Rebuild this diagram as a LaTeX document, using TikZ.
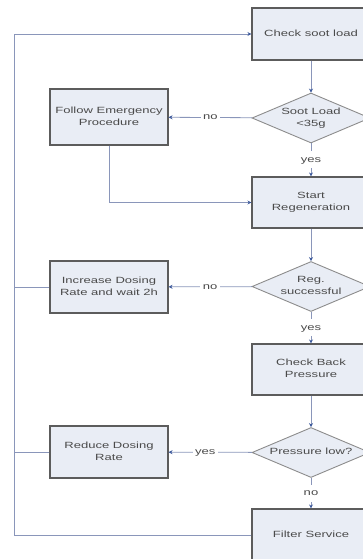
\documentclass[tikz,border=0pt]{standalone}
\usepackage{graphicx}
\usepackage{fontspec}
\setmainfont{Liberation Sans}
\usepackage{tikz}
\usetikzlibrary{
    arrows.meta,
    shapes.geometric
}

\definecolor{boxfill}{HTML}{E9EDF5}
\definecolor{boxline}{HTML}{5C5C5C}
\definecolor{diamline}{HTML}{8C8C8C}
\definecolor{flowline}{HTML}{8A96BA}
\definecolor{tipblue}{HTML}{3D5A9C}
\definecolor{txtgrey}{HTML}{4A4A4A}

% text of the chart is set wide
\newcommand{\wtext}[1]{\scalebox{1.45}[1]{\begin{tabular}{@{}c@{}}#1\end{tabular}}}

\tikzset{
    stepbox/.style={draw=boxline, fill=boxfill, line width=1.1pt, rectangle,
        minimum width=118pt, minimum height=52pt, inner sep=0pt,
        text=txtgrey, font=\fontsize{9}{12}\selectfont},
    decision/.style={draw=diamline, fill=boxfill, line width=0.9pt, diamond,
        minimum width=118pt, minimum height=50pt, inner sep=0pt},
    dtext/.style={text=txtgrey, font=\fontsize{9}{12}\selectfont},
    flow/.style={draw=flowline, line width=0.8pt},
    flowto/.style={flow, -{Stealth[length=4pt, width=4pt, color=tipblue]}},
    answer/.style={fill=white, inner sep=2.5pt, text=txtgrey, font=\fontsize{9}{12}\selectfont}
}

\begin{document}
\begin{tikzpicture}[x=1pt, y=-1pt]
    \useasboundingbox (0,0) rectangle (362,559);

    \node[stepbox] (check) at (311, 34) {\wtext{Check soot load}};
    \node[decision, label={[dtext]center:\wtext{Soot Load\\<35g}}] (sootload) at (311, 118) {};
    \node[stepbox, minimum height=56pt] (emergency) at (109, 117) {\wtext{Follow Emergency\\Procedure}};
    \node[stepbox, minimum height=51pt] (regen) at (311, 202.5) {\wtext{Start\\Regeneration}};

    \node[decision, label={[dtext]center:\wtext{Reg.\\successful}}] (regok) at (311, 286.5) {};
    \node[stepbox] (dosing) at (109, 287) {\wtext{Increase Dosing\\Rate and wait 2h}};
    \node[stepbox, minimum height=51pt] (backpress) at (311, 369.5) {\wtext{Check Back\\Pressure}};

    \node[decision, label={[dtext]center:\wtext{Pressure low?}}] (presslow) at (311, 452.5) {};
    \node[stepbox] (reduce) at (109, 452) {\wtext{Reduce Dosing\\Rate}};
    \node[stepbox] (filter) at (311, 535) {\wtext{Filter Service}};

    \coordinate (looptop) at (14, 34);
    \coordinate (loopbot) at (14, 535);

    % main column
    \draw[flowto] (check) -- (sootload);
    \draw[flowto] (sootload) -- node[answer] {\wtext{yes}} (regen);
    \draw[flowto] (regen) -- (regok);
    \draw[flowto] (regok) -- node[answer] {\wtext{yes}} (backpress);
    \draw[flowto] (backpress) -- (presslow);
    \draw[flowto] (presslow) -- node[answer] {\wtext{no}} (filter);

    % side branches
    \draw[flowto] (sootload) -- node[answer] {\wtext{no}} (emergency);
    \draw[flowto] (emergency.south) |- (regen.west);
    \draw[flowto] (regok) -- node[answer] {\wtext{no}} (dosing);
    \draw[flowto] (presslow) -- node[answer, xshift=-5pt] {\wtext{yes}} (reduce);

    % return loop
    \draw[flowto] (filter.west) -- (loopbot) -- (looptop) -- (check.west);
    \draw[flow] (dosing.west) -- (dosing.west -| looptop);
    \draw[flow] (reduce.west) -- (reduce.west -| looptop);
\end{tikzpicture}
\end{document}
